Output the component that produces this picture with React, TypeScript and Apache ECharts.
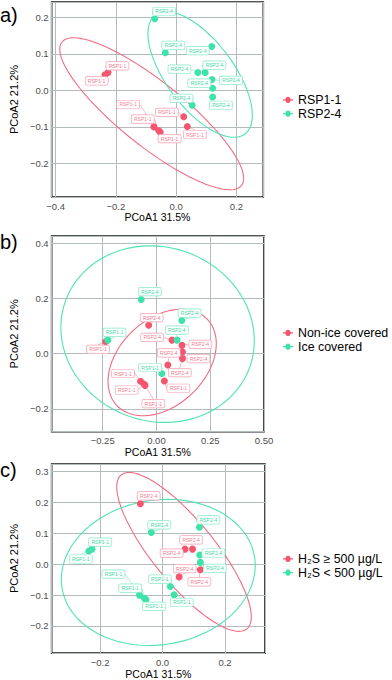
import React, { useEffect, useRef } from 'react';
import * as echarts from 'echarts';

// ---------- data ----------
const sampleSite = [
  'RSP1-1', 'RSP1-1', 'RSP1-1', 'RSP1-1', 'RSP1-1', 'RSP1-1', 'RSP1-1',
  'RSP2-4', 'RSP2-4', 'RSP2-4', 'RSP2-4', 'RSP2-4', 'RSP2-4', 'RSP2-4', 'RSP2-4', 'RSP2-4',
];
const pcoa1 = [-0.236, -0.226, -0.074, -0.058, -0.053, 0.025, 0.037, -0.071, -0.036, 0.118, 0.072, 0.096, 0.119, 0.121, 0.121, 0.053];
const pcoa2 = [0.043, 0.049, -0.100, -0.110, -0.115, -0.072, -0.099, 0.196, 0.103, 0.120, 0.049, 0.049, 0.030, 0.006, -0.018, -0.041];
const iceCovered = [false, true, false, false, false, true, false, true, false, true, false, true, false, false, false, false];
const h2sAtLeast500 = [false, false, false, false, false, false, false, true, false, false, true, true, false, false, true, true];

const siteGroups = ['RSP1-1', 'RSP2-4'];
const iceGroups = ['Non-ice covered', 'Ice covered'];
const h2sGroups = ['H₂S ≥ 500 µg/L', 'H₂S < 500 µg/L'];
const panelTags = ['a)', 'b)', 'c)'];
const xTitle = 'PCoA1 31.5%';
const yTitle = 'PCoA2 21.2%';

// ---------- layout (label repel offsets in px, panel geometry) ----------
const labelOffsetsA = [
  [-8.4, 6.3], [9.4, -6.6], [-25.7, -22.4], [-16, -11.5], [9.4, 6.3], [-16.7, -4.3], [7.6, 8],
  [9.3, -7.3], [8, -7.3], [-14, 4], [-18.4, -3.3], [9.3, -7.3], [19, 1], [-13.4, -5], [8.3, 8.3], [-10.7, -7],
];
const labelOffsetsB = [
  [-7.7, 7.6], [6.7, -7.7], [-17.4, -7.7], [-17.3, 6], [8.3, 18.3], [-11.7, -6], [14, 7.3],
  [8.7, -8], [3, -7.7], [7.7, -7.4], [-19.7, -2.7], [-0.3, -10], [18.3, -1], [16, 6.7], [-2.7, 14], [1, -12],
];
const labelOffsetsC = [
  [-8, 8], [8.3, -7], [-26, -21], [-14.3, -10], [8, 6.6], [-10.6, -7.4], [7.6, 7.7],
  [8.3, -8], [8, -7.7], [9, -7.3], [-13.4, 4], [-1.4, -9.3], [13.7, -2], [14.6, 6], [-1, 12], [5.6, -8.3],
];

const FONT = '"Liberation Sans", Arial, Helvetica, sans-serif';
const POINT = ['#f4566f', '#3ee3a9'];
const ELLIPSE = ['#ef6d84', '#4fe3b5'];
const LABEL_TEXT = ['#f07e94', '#3fdaa6'];
const LABEL_BORDER = ['#f6a7b6', '#8eecca'];

const panels = [
  { left: 45, top: 2, width: 218.3, height: 195, xMin: -0.413, xMax: 0.289, xStep: 0.2, xDec: 1, yMin: -0.292, yMax: 0.242, yStep: 0.1, yDec: 1, showXMax: false, tagY: 16, legendTop: 88 },
  { left: 45, top: 236, width: 219, height: 195.7, xMin: -0.487, xMax: 0.5, xStep: 0.25, xDec: 2, yMin: -0.283, yMax: 0.4265, yStep: 0.2, yDec: 1, showXMax: true, tagY: 243, legendTop: 321 },
  { left: 46, top: 464, width: 219, height: 190, xMin: -0.355, xMax: 0.328, xStep: 0.2, xDec: 1, yMin: -0.288, yMax: 0.325, yStep: 0.1, yDec: 1, showXMax: false, tagY: 471, legendTop: 547 },
];

// group index (0 = red, 1 = green) of each sample in each panel
const groupOf = [
  (i: number) => (sampleSite[i] === 'RSP1-1' ? 0 : 1),
  (i: number) => (iceCovered[i] ? 1 : 0),
  (i: number) => (h2sAtLeast500[i] ? 0 : 1),
];
const legendNames = [siteGroups, iceGroups, h2sGroups];
const labelOffsets = [labelOffsetsA, labelOffsetsB, labelOffsetsC];

// ---------- stat_ellipse (type = "t", level 0.95) as in ggplot2 ----------
function covTrob(xs: number[], ys: number[]) {
  const n = xs.length, p = 2, nu = 5;
  let w = xs.map(() => 1);
  let lx = xs.reduce((a, b) => a + b, 0) / n;
  let ly = ys.reduce((a, b) => a + b, 0) / n;
  let dx: number[] = [], dy: number[] = [];
  for (let it = 0; it < 25; it++) {
    const w0 = w.slice();
    dx = xs.map((v) => v - lx);
    dy = ys.map((v) => v - ly);
    const sw = w.reduce((a, b) => a + b, 0);
    let a = 0, b = 0, c = 0;
    for (let i = 0; i < n; i++) {
      a += (w[i] * dx[i] * dx[i]) / sw;
      b += (w[i] * dx[i] * dy[i]) / sw;
      c += (w[i] * dy[i] * dy[i]) / sw;
    }
    const det = a * c - b * b;
    const Q = dx.map((u, i) => (c * u * u - 2 * b * u * dy[i] + a * dy[i] * dy[i]) / det);
    w = Q.map((q) => (nu + p) / (nu + q));
    const sw2 = w.reduce((s, v) => s + v, 0);
    lx = xs.reduce((s, v, i) => s + w[i] * v, 0) / sw2;
    ly = ys.reduce((s, v, i) => s + w[i] * v, 0) / sw2;
    if (w.every((v, i) => Math.abs(v - w0[i]) < 0.01)) break;
  }
  let sxx = 0, sxy = 0, syy = 0;
  for (let i = 0; i < n; i++) {
    sxx += w[i] * dx[i] * dx[i];
    sxy += w[i] * dx[i] * dy[i];
    syy += w[i] * dy[i] * dy[i];
  }
  return { center: [lx, ly], cov: [sxx / n, sxy / n, syy / n] };
}

function ellipsePoints(xs: number[], ys: number[]) {
  const n = xs.length;
  const dfd = n - 1;
  const qf = (dfd / 2) * (Math.pow(0.05, -2 / dfd) - 1);
  const radius = Math.sqrt(2 * qf);
  const { center, cov } = covTrob(xs, ys);
  const r11 = Math.sqrt(cov[0]);
  const r12 = cov[1] / r11;
  const r22 = Math.sqrt(cov[2] - r12 * r12);
  const seg = 120;
  const out: number[][] = [];
  for (let k = 0; k <= seg; k++) {
    const t = (k * 2 * Math.PI) / seg;
    const cs = Math.cos(t), sn = Math.sin(t);
    out.push([center[0] + radius * cs * r11, center[1] + radius * (cs * r12 + sn * r22)]);
  }
  return out;
}

const fmt = (dec: number) => (v: number) => {
  if (Math.abs(v) < 1e-9) return (0).toFixed(dec);
  return (v < 0 ? '\u2212' : '') + Math.abs(v).toFixed(dec);
};

const keyIcon = 'path://M0,4.3 L3,4.3 A3,3 0 0 1 9,4.3 L12,4.3 L12,5.7 L9,5.7 A3,3 0 0 1 3,5.7 L0,5.7 Z';

function buildOption() {
  const grid: any[] = [], xAxis: any[] = [], yAxis: any[] = [], series: any[] = [], legend: any[] = [], graphic: any[] = [];
  panels.forEach((pn, k) => {
    grid.push({ left: pn.left, top: pn.top, width: pn.width, height: pn.height, show: true, borderColor: '#1a1a1a', borderWidth: 1.6, backgroundColor: '#fff' });
    xAxis.push({
      type: 'value', gridIndex: k, min: pn.xMin, max: pn.xMax, minInterval: pn.xStep, maxInterval: pn.xStep, splitNumber: 4,
      axisLine: { show: false }, axisTick: { show: false },
      splitLine: { show: true, lineStyle: { color: '#b3bbbb', width: 1 } },
      axisLabel: { formatter: fmt(pn.xDec), color: '#4d4d4d', fontSize: 9.5, fontFamily: FONT, margin: 4, showMinLabel: false, showMaxLabel: pn.showXMax },
      name: xTitle, nameLocation: 'middle', nameGap: 14,
      nameTextStyle: { fontSize: 10.5, fontFamily: FONT, color: '#000' },
    });
    yAxis.push({
      type: 'value', gridIndex: k, min: pn.yMin, max: pn.yMax, minInterval: pn.yStep, maxInterval: pn.yStep, splitNumber: 5,
      axisLine: { show: false }, axisTick: { show: false },
      splitLine: { show: true, lineStyle: { color: '#b3bbbb', width: 1 } },
      axisLabel: { formatter: fmt(pn.yDec), color: '#4d4d4d', fontSize: 9.5, fontFamily: FONT, margin: 3, showMinLabel: false, showMaxLabel: false },
      name: yTitle, nameLocation: 'middle', nameGap: 20,
      nameTextStyle: { fontSize: 11, fontFamily: FONT, color: '#000' },
    });
    [0, 1].forEach((g) => {
      const idx = sampleSite.map((_, i) => i).filter((i) => groupOf[k](i) === g);
      series.push({
        type: 'line', name: `ellipse-${k}-${g}`, xAxisIndex: k, yAxisIndex: k,
        data: ellipsePoints(idx.map((i) => pcoa1[i]), idx.map((i) => pcoa2[i])),
        showSymbol: false, symbol: 'none', smooth: false, silent: true, clip: true,
        lineStyle: { color: ELLIPSE[g], width: 1.1 }, z: 2,
      });
    });
    [0, 1].forEach((g) => {
      const idx = sampleSite.map((_, i) => i).filter((i) => groupOf[k](i) === g);
      series.push({
        type: 'scatter', name: legendNames[k][g], xAxisIndex: k, yAxisIndex: k,
        data: idx.map((i) => ({ value: [pcoa1[i], pcoa2[i]], sampleIndex: i })),
        symbolSize: 7, itemStyle: { color: POINT[g], opacity: 1 }, z: 3,
        label: {
          show: true, position: 'inside',
          formatter: (p: any) => sampleSite[p.data.sampleIndex],
          fontSize: 5, lineHeight: 5.5, fontFamily: FONT, color: LABEL_TEXT[g],
          backgroundColor: 'rgba(255,255,255,0.85)', borderColor: LABEL_BORDER[g], borderWidth: 0.7,
          borderRadius: 1.5, padding: [1.3, 2.4, 1, 2.4],
        },
        labelLine: { show: true, lineStyle: { color: LABEL_BORDER[g], width: 0.8 } },
        labelLayout: (params: any) => {
          const i = idx[params.dataIndex];
          const off = labelOffsets[k][i];
          return { dx: off[0], dy: off[1] };
        },
        emphasis: { disabled: true },
      });
    });
    legend.push({
      data: legendNames[k], orient: 'vertical', left: 278, top: pn.legendTop, itemGap: 0,
      itemWidth: 10, itemHeight: 7, icon: keyIcon, selectedMode: false,
      textStyle: { fontSize: 12.4, lineHeight: 13.8, fontFamily: FONT, color: '#000', padding: [0, 0, 0, 0] },
    });
    graphic.push({
      type: 'text', left: 0, top: pn.tagY - 11,
      style: { text: panelTags[k], fontSize: 20, fontFamily: FONT, fill: '#000' },
    });
  });
  return { animation: false, backgroundColor: '#fff', grid, xAxis, yAxis, series, legend, graphic };
}

export default function App() {
  const ref = useRef<HTMLDivElement>(null);
  useEffect(() => {
    if (!ref.current) return;
    const chart = echarts.init(ref.current, undefined, { renderer: 'svg' });
    chart.setOption(buildOption() as any);
    return () => chart.dispose();
  }, []);
  return <div ref={ref} style={{ position: 'absolute', left: 0, top: 0, width: 392, height: 680 }} />;
}
